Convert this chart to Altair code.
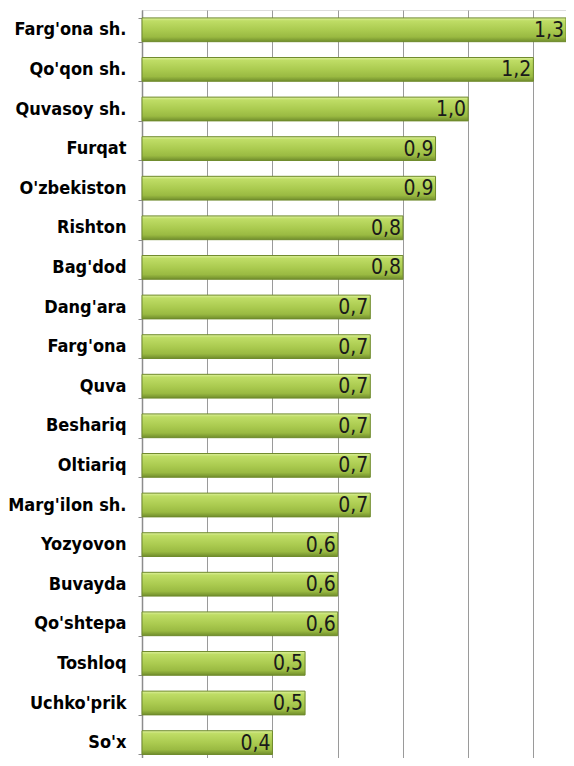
import altair as alt
import pandas as pd

regions = ["Farg'ona sh.", "Qo'qon sh.", "Quvasoy sh.", "Furqat", "O'zbekiston",
           "Rishton", "Bag'dod", "Dang'ara", "Farg'ona", "Quva", "Beshariq",
           "Oltiariq", "Marg'ilon sh.", "Yozyovon", "Buvayda", "Qo'shtepa",
           "Toshloq", "Uchko'prik", "So'x"]
values = [1.3, 1.2, 1.0, 0.9, 0.9, 0.8, 0.8, 0.7, 0.7, 0.7, 0.7, 0.7, 0.7,
          0.6, 0.6, 0.6, 0.5, 0.5, 0.4]
grid_ticks = [0, 0.2, 0.4, 0.6, 0.8, 1.0, 1.2]

df = pd.DataFrame({"region": regions, "value": values})

FONT = "DejaVu Sans Condensed, Liberation Sans Narrow, sans-serif"

x_scale = alt.Scale(domain=[0, 1.3], range=[0, 424], nice=False, zero=True)
y_scale = alt.Scale(domain=regions, range=[0, 752.4], paddingInner=0.4, paddingOuter=0.2)

gradient = alt.Gradient(
    gradient="linear", x1=0, x2=0, y1=0, y2=1,
    stops=[
        alt.GradientStop(color="#dff2a0", offset=0),
        alt.GradientStop(color="#bfdd66", offset=0.12),
        alt.GradientStop(color="#abcb50", offset=0.5),
        alt.GradientStop(color="#9aba42", offset=0.8),
        alt.GradientStop(color="#708d2c", offset=1),
    ],
)

base = alt.Chart(df)

bars = base.mark_bar(color=gradient, stroke="#6f8a2c", strokeWidth=1).encode(
    x=alt.X("value:Q", scale=x_scale,
            axis=alt.Axis(values=grid_ticks, labels=False, ticks=False, domain=False,
                          title=None, grid=True, gridColor="#9a9a9a", gridWidth=1,
                          orient="top")),
    y=alt.Y("region:N", scale=y_scale, sort=regions,
            axis=alt.Axis(title=None, labelFont=FONT, labelFontSize=18,
                          labelFontWeight="bold", labelColor="#000000",
                          labelPadding=12, domainColor="#8c8c8c", domainWidth=1.5,
                          tickColor="#8c8c8c", tickSize=4, tickBand="extent",
                          labelLimit=200)),
)

labels = base.transform_calculate(
    label="replace(format(datum.value, '.1f'), '.', ',')"
).mark_text(align="right", baseline="middle", dx=-2, dy=1, font=FONT,
            fontSize=21, color="#1a1a1a").encode(
    x=alt.X("value:Q", scale=x_scale),
    y=alt.Y("region:N", scale=y_scale, sort=regions),
    text="label:N",
)

chart = (bars + labels).properties(
    width=424, height=748,
    autosize=alt.AutoSizeParams(type="none"),
    padding={"left": 134, "top": 2, "right": 0, "bottom": 0},
).configure_view(stroke=None).configure(background="white")

chart.save("out.html", embed_options={"renderer": "svg", "actions": False})
